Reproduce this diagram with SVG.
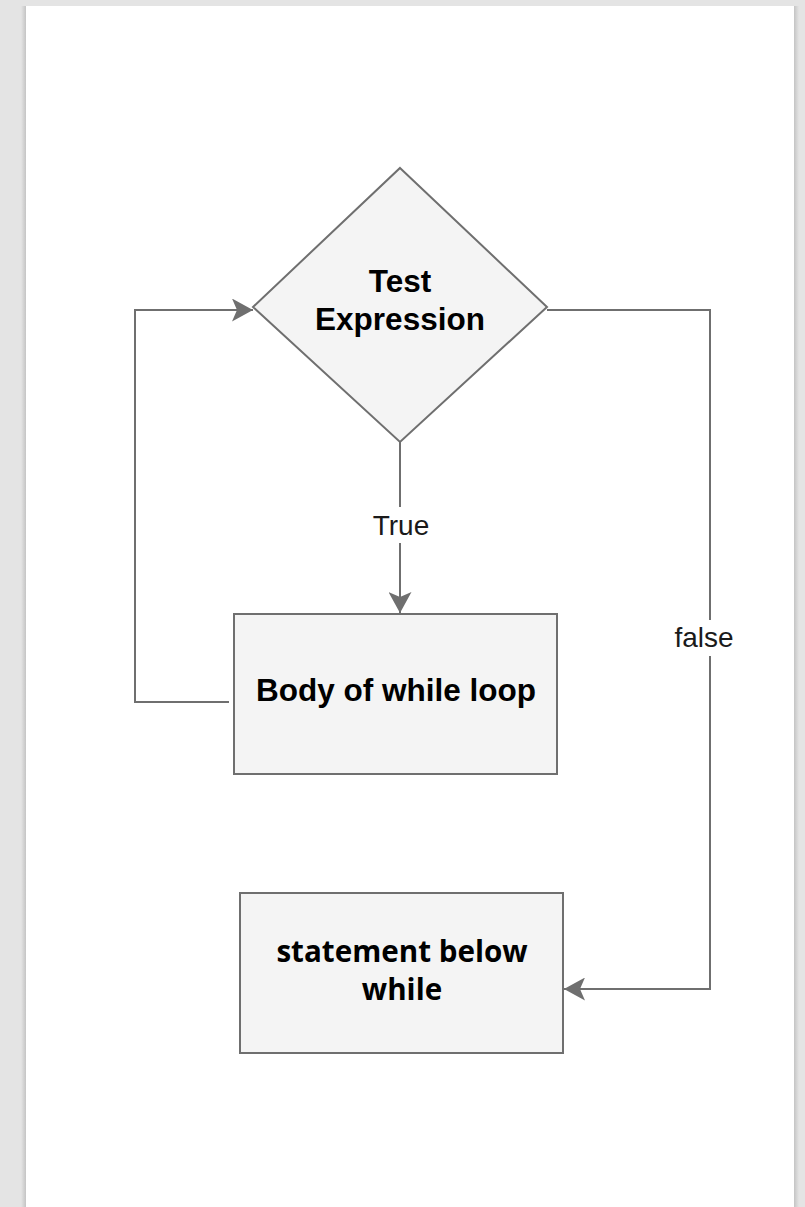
<svg xmlns="http://www.w3.org/2000/svg" width="805" height="1207" viewBox="0 0 805 1207">
  <defs>
    <style>
      .shape { fill: #f4f4f4; stroke: #6f6f6f; stroke-width: 2; }
      .edge { fill: none; stroke: #6f6f6f; stroke-width: 2; }
      .title { font-family: "Liberation Sans", Arial, Helvetica, sans-serif; font-weight: bold; font-size: 31.5px; fill: #000; text-anchor: middle; }
      .title2 { font-family: "Open Sans", "Liberation Sans", sans-serif; font-weight: bold; font-size: 29.6px; fill: #000; text-anchor: middle; }
      .label { font-family: "Liberation Sans", Arial, sans-serif; font-size: 28px; fill: #1a1a1a; text-anchor: middle; }
    </style>
    <marker id="arrow" viewBox="0 0 21 23" refX="21" refY="11.5" markerWidth="21" markerHeight="23" markerUnits="userSpaceOnUse" orient="auto">
      <path d="M0,0 L21,11.5 L0,23 L5,11.5 Z" fill="#6f6f6f"/>
    </marker>
    <linearGradient id="shadowL" x1="0" x2="1" y1="0" y2="0">
      <stop offset="0" stop-color="#e4e4e4"/>
      <stop offset="1" stop-color="#c4c4c4"/>
    </linearGradient>
    <linearGradient id="shadowR" x1="0" x2="1" y1="0" y2="0">
      <stop offset="0" stop-color="#c4c4c4"/>
      <stop offset="1" stop-color="#e4e4e4"/>
    </linearGradient>
  </defs>

  <!-- canvas backdrop and page -->
  <rect x="0" y="0" width="805" height="1207" fill="#e4e4e4"/>
  <rect x="21" y="6" width="5" height="1201" fill="url(#shadowL)"/>
  <rect x="794" y="6" width="5" height="1201" fill="url(#shadowR)"/>
  <rect x="26" y="6" width="768" height="1201" fill="#ffffff"/>

  <!-- connectors -->
  <g id="connectors">
    <path class="edge" d="M229,702 L135,702 L135,310 L253,310" marker-end="url(#arrow)"/>
    <path class="edge" d="M400,442 L400,507"/>
    <path class="edge" d="M400,543 L400,613" marker-end="url(#arrow)"/>
    <path class="edge" d="M547,310 L710,310 L710,620"/>
    <path class="edge" d="M710,656 L710,989 L564,989" marker-end="url(#arrow)"/>
    <text class="label" x="401" y="535">True</text>
    <text class="label" x="704" y="647">false</text>
  </g>

  <!-- decision -->
  <g id="test-expression">
    <polygon class="shape" points="400,168 547,307 400,442 253,307"/>
    <text class="title" x="400" y="292">Test</text>
    <text class="title" x="400" y="330">Expression</text>
  </g>

  <!-- loop body -->
  <g id="loop-body">
    <rect class="shape" x="234" y="614" width="323" height="160"/>
    <text class="title" x="396" y="701">Body of while loop</text>
  </g>

  <!-- statement after the loop -->
  <g id="after-loop">
    <rect class="shape" x="240" y="893" width="323" height="160"/>
    <text class="title2" x="402" y="962">statement below</text>
    <text class="title2" x="402" y="1000">while</text>
  </g>
</svg>
